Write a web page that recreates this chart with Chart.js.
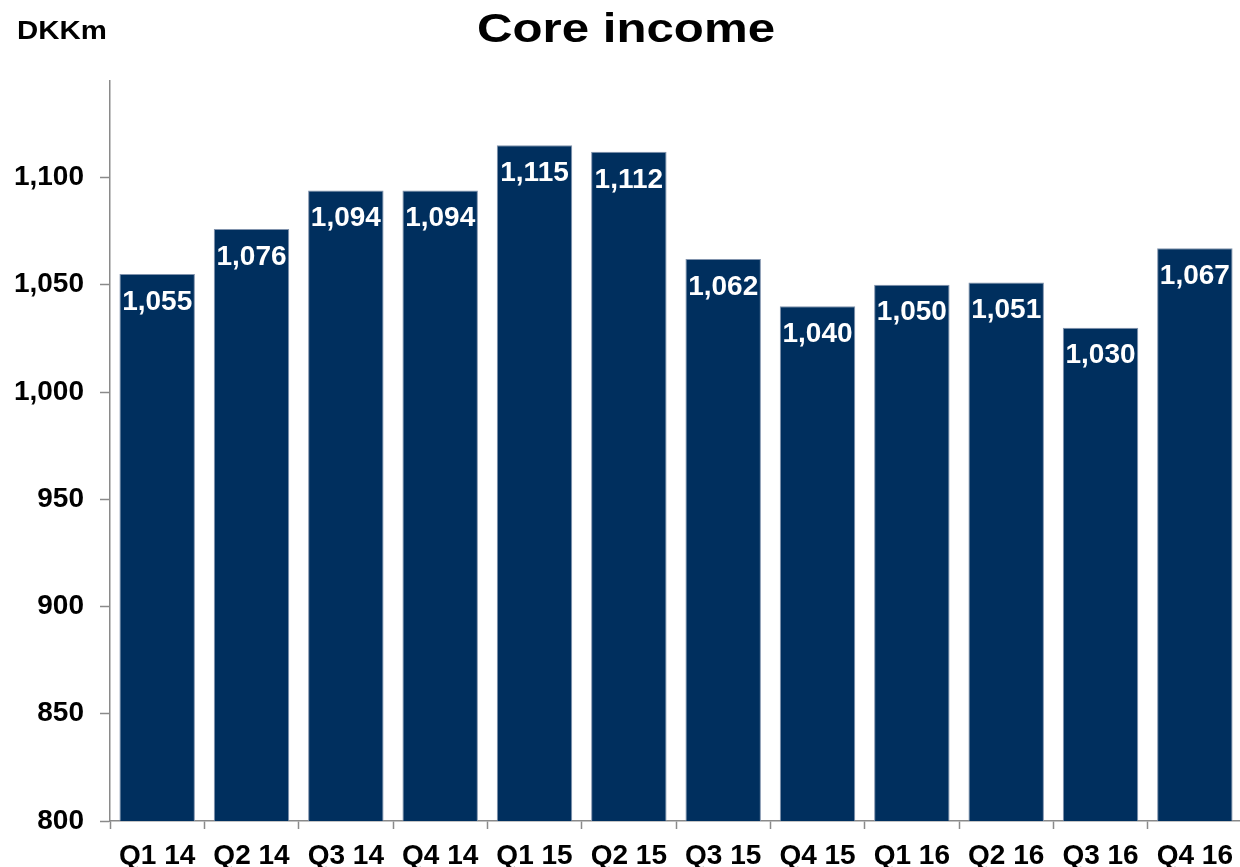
<!DOCTYPE html>
<html>
<head>
<meta charset="utf-8">
<title>Core income</title>
<script src="https://cdn.jsdelivr.net/npm/chart.js@4.4.1/dist/chart.umd.min.js"></script>
<style>
  html, body { margin: 0; padding: 0; background: #ffffff; overflow: hidden; }
  canvas { display: block; }
</style>
</head>
<body>
<canvas id="chart" width="1243" height="867"></canvas>
<script>
// Quarterly core income, DKKm
const quarters = ['Q1 14', 'Q2 14', 'Q3 14', 'Q4 14', 'Q1 15', 'Q2 15',
                  'Q3 15', 'Q4 15', 'Q1 16', 'Q2 16', 'Q3 16', 'Q4 16'];
const coreIncome = [1055, 1076, 1094, 1094, 1115, 1112, 1062, 1040, 1050, 1051, 1030, 1067];
const yTickValues = [800, 850, 900, 950, 1000, 1050, 1100];

const FONT = '"Liberation Sans", Arial, Helvetica, sans-serif';
const AXIS_GREY = '#8a8a8a';
const BAR_BLUE = '#002f5e';

const fmt = v => v.toLocaleString('en-US');

// Draws text with a horizontal stretch factor
function stretchedText(ctx, text, x, y, sizePx, sx, align) {
  ctx.save();
  ctx.font = 'bold ' + sizePx + 'px ' + FONT;
  ctx.textAlign = align;
  ctx.textBaseline = 'alphabetic';
  ctx.translate(x, y);
  ctx.scale(sx, 1);
  ctx.fillText(text, 0, 0);
  ctx.restore();
}

const decorations = {
  id: 'decorations',
  afterDatasetsDraw(chart) {
    const ctx = chart.ctx;
    // value labels inside the top of each bar
    const meta = chart.getDatasetMeta(0);
    ctx.save();
    ctx.fillStyle = '#ffffff';
    ctx.font = 'bold 28px ' + FONT;
    ctx.textAlign = 'center';
    ctx.textBaseline = 'middle';
    meta.data.forEach((bar, i) => {
      ctx.fillText(fmt(coreIncome[i]), bar.x, bar.y + 28);
    });
    ctx.restore();
  },
  afterDraw(chart) {
    const ctx = chart.ctx;
    ctx.save();
    ctx.fillStyle = '#000000';
    stretchedText(ctx, 'Core income', 626, 42, 41, 1.2, 'center');
    stretchedText(ctx, 'DKKm', 17, 39, 26, 1.13, 'left');
    ctx.restore();
  }
};

new Chart(document.getElementById('chart'), {
  type: 'bar',
  data: {
    labels: quarters,
    datasets: [{
      data: coreIncome,
      backgroundColor: BAR_BLUE,
      borderColor: '#8193ad',
      borderWidth: 1,
      categoryPercentage: 1.0,
      barPercentage: 0.8
    }]
  },
  options: {
    responsive: false,
    animation: false,
    devicePixelRatio: 1,
    layout: { padding: { top: 81, left: 0, right: 0, bottom: 0 } },
    plugins: {
      legend: { display: false },
      tooltip: { enabled: false },
      title: { display: false }
    },
    scales: {
      x: {
        offset: true,
        grid: {
          offset: true,
          drawOnChartArea: false,
          drawTicks: true,
          tickLength: 8,
          tickColor: AXIS_GREY,
          tickWidth: 1.5
        },
        border: { display: true, color: AXIS_GREY, width: 1.5 },
        ticks: {
          color: '#000000',
          font: { family: FONT, size: 28, weight: 'bold' },
          padding: 10,
          maxRotation: 0,
          autoSkip: false
        },
        afterFit(scale) { scale.height = 46; }
      },
      y: {
        min: 800,
        max: 1145,
        grid: {
          drawOnChartArea: false,
          drawTicks: true,
          tickLength: 10,
          tickColor: AXIS_GREY,
          tickWidth: 1.5
        },
        border: { display: true, color: AXIS_GREY, width: 1.5 },
        ticks: {
          stepSize: 50,
          color: '#000000',
          font: { family: FONT, size: 28, weight: 'bold' },
          padding: 16,
          callback: v => fmt(v)
        },
        afterBuildTicks(scale) {
          scale.ticks = yTickValues.map(v => ({ value: v }));
        },
        afterFit(scale) { scale.width = 110; }
      }
    }
  },
  plugins: [decorations]
});
</script>
</body>
</html>
